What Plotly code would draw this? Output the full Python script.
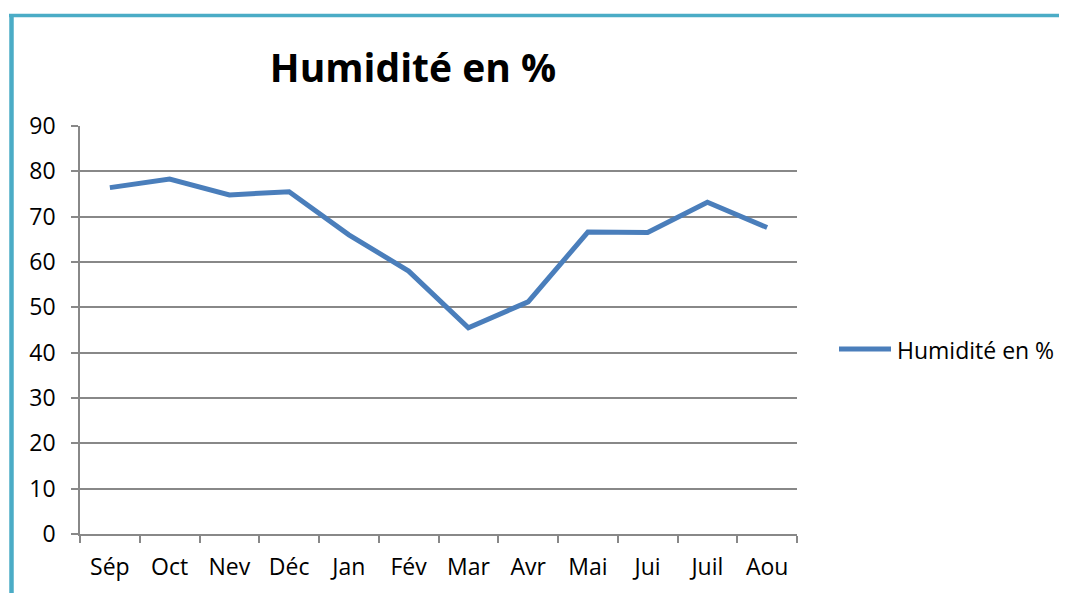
import plotly.graph_objects as go

months = ["Sép", "Oct", "Nev", "Déc", "Jan", "Fév", "Mar", "Avr", "Mai", "Jui", "Juil", "Aou"]
humidity = [76.4, 78.3, 74.8, 75.5, 66.0, 58.0, 45.5, 51.2, 66.6, 66.5, 73.2, 67.6]
y_ticks = [0, 10, 20, 30, 40, 50, 60, 70, 80, 90]
series_name = "Humidité en %"

OFF = 8  # page body margin
W, H = 1067 - OFF, 593 - OFF
L, R, T, B = 80 - OFF, 797 - OFF, 126 - OFF, 534 - OFF

fig = go.Figure()
fig.add_trace(go.Scatter(
    x=months, y=humidity, mode="lines", name=series_name,
    line=dict(color="#4A7EBB", width=5), showlegend=False,
))

def px(xp):
    return (xp - OFF - L) / (R - L)

def py(yp):
    return (B - (yp - OFF)) / (B - T)

border = "#4BACC6"
fig.add_shape(type="line", xref="paper", yref="paper",
              x0=px(9), x1=px(1067), y0=py(15.5), y1=py(15.5),
              line=dict(color=border, width=3.5))
fig.add_shape(type="line", xref="paper", yref="paper",
              x0=px(11.5), x1=px(11.5), y0=py(14), y1=py(600),
              line=dict(color=border, width=4.5))

# legend entry
fig.add_shape(type="line", xref="paper", yref="paper",
              x0=px(839), x1=px(891), y0=py(349), y1=py(349),
              line=dict(color="#4A7EBB", width=5))
font = "'Open Sans', Lato, sans-serif"
fig.add_annotation(text=series_name, xref="paper", yref="paper",
                   x=px(895), y=py(350), xanchor="left", yanchor="middle",
                   showarrow=False, font=dict(size=23, family=font, color="#000000"))

fig.update_layout(
    width=W, height=H,
    margin=dict(l=L, r=W - R, t=T, b=H - B),
    paper_bgcolor="white", plot_bgcolor="white",
    font=dict(family=font, size=23, color="#000000"),
    title=dict(text="<b>Humidité en %</b>", x=(413 - OFF) / W, xanchor="center",
               y=1 - (68 - OFF) / H, yanchor="middle",
               font=dict(size=39, family=font, color="#000000")),
    showlegend=False,
    xaxis=dict(type="category", range=[-0.5, 11.5], tickson="boundaries",
               ticks="outside", ticklen=7, tickcolor="#888888", tickwidth=1.5,
               showline=True, linecolor="#888888", linewidth=1.5,
               showgrid=False, zeroline=False, ticklabelstandoff=12,
               tickfont=dict(size=23)),
    yaxis=dict(range=[0, 90], tickvals=y_ticks, ticks="outside", ticklen=7,
               tickcolor="#888888", tickwidth=1.5,
               showline=True, linecolor="#888888", linewidth=1.5,
               showgrid=True, gridcolor="#888888", gridwidth=1.5,
               zeroline=False, ticklabelstandoff=11, tickfont=dict(size=23)),
)

fig.write_html("out.html")
